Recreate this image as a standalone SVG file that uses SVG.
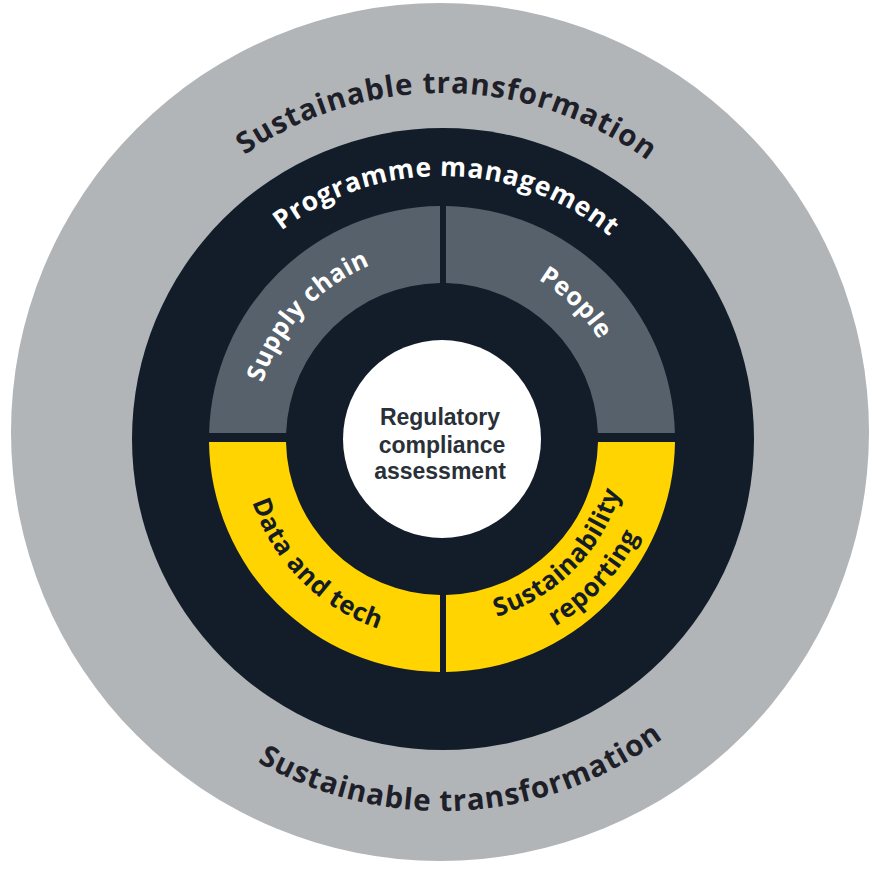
<svg xmlns="http://www.w3.org/2000/svg" width="870" height="872" viewBox="0 0 870 872">
  <style>
    .ring-label { font-family: "Open Sans", "DejaVu Sans", sans-serif; font-weight: 700; }
    .outer-t { font-size: 29.5px; letter-spacing: 0.9px; fill: #1e1f28; }
    .prog-t { font-size: 26.5px; letter-spacing: 0.8px; fill: #ffffff; }
    .seg-w { font-size: 25px; letter-spacing: 0.5px; fill: #ffffff; }
    .seg-d { font-size: 25.5px; letter-spacing: 0.6px; fill: #141c26; }
    .center-t { font-family: "Liberation Sans", Arial, sans-serif; font-weight: 700; font-size: 23px; fill: #2a3038; text-anchor: middle; }
  </style>
  <defs>
    <path id="p-top" d="M 96 439 A 346 346 0 0 1 788 439"/>
    <path id="p-bottom" d="M 70 439 A 372 372 0 0 0 814 439"/>
    <path id="p-prog" d="M 179 439 A 263 263 0 0 1 705 439"/>
    <path id="p-supply" d="M 262.7 495.5 A 188 188 0 0 1 482.7 255.5"/>
    <path id="p-people" d="M 392.3 259.8 A 186 186 0 0 1 622.1 485.6"/>
    <path id="p-data" d="M 248.8 387.2 A 200 200 0 0 0 493.8 632.2"/>
    <path id="p-sust" d="M 395.1 619 A 186 186 0 0 0 621.3 389.6"/>
    <path id="p-report" d="M 394.6 652.8 A 220 220 0 0 0 651.8 372.8"/>
  </defs>

  <g id="sustainable-transformation">
    <circle cx="440" cy="432" r="429" fill="#b1b5b8"/>
    <text class="ring-label outer-t" text-anchor="middle"><textPath href="#p-top" startOffset="50.5%">Sustainable transformation</textPath></text>
    <text class="ring-label outer-t" text-anchor="middle"><textPath href="#p-bottom" startOffset="51.9%">Sustainable transformation</textPath></text>
  </g>

  <g id="programme-management">
    <circle cx="443" cy="439" r="311" fill="#121d29"/>
    <text class="ring-label prog-t" text-anchor="middle"><textPath href="#p-prog" startOffset="50.6%">Programme management</textPath></text>
  </g>

  <g id="supply-chain">
    <path d="M 209.1 433 A 233 233 0 0 1 440 206 L 440 283 A 156 156 0 0 0 286.1 433 Z" fill="#56616b"/>
    <text class="ring-label seg-w" text-anchor="middle"><textPath href="#p-supply" startOffset="50%">Supply chain</textPath></text>
  </g>

  <g id="people">
    <path d="M 446 206 A 233 233 0 0 1 674.9 433 L 597.9 433 A 156 156 0 0 0 446 283.1 Z" fill="#56616b"/>
    <text class="ring-label seg-w" text-anchor="middle"><textPath href="#p-people" startOffset="50%">People</textPath></text>
  </g>

  <g id="data-and-tech">
    <path d="M 440 672 A 233 233 0 0 1 209 442 L 286 442 A 156 156 0 0 0 440 595 Z" fill="#ffd400"/>
    <text class="ring-label seg-d" text-anchor="middle"><textPath href="#p-data" startOffset="50%">Data and tech</textPath></text>
  </g>

  <g id="sustainability-reporting">
    <path d="M 675 442 A 233 233 0 0 1 446 672 L 446 595 A 156 156 0 0 0 598 442 Z" fill="#ffd400"/>
    <text class="ring-label seg-d" text-anchor="middle"><textPath href="#p-sust" startOffset="50%">Sustainability</textPath></text>
    <text class="ring-label seg-d" text-anchor="middle"><textPath href="#p-report" startOffset="50%">reporting</textPath></text>
  </g>

  <g id="regulatory-compliance-assessment">
    <circle cx="442" cy="439" r="99" fill="#ffffff"/>
    <text class="center-t" x="440" y="425">Regulatory</text>
    <text class="center-t" x="442" y="453">compliance</text>
    <text class="center-t" x="440" y="479">assessment</text>
  </g>

  <g id="connectors"/>
</svg>
